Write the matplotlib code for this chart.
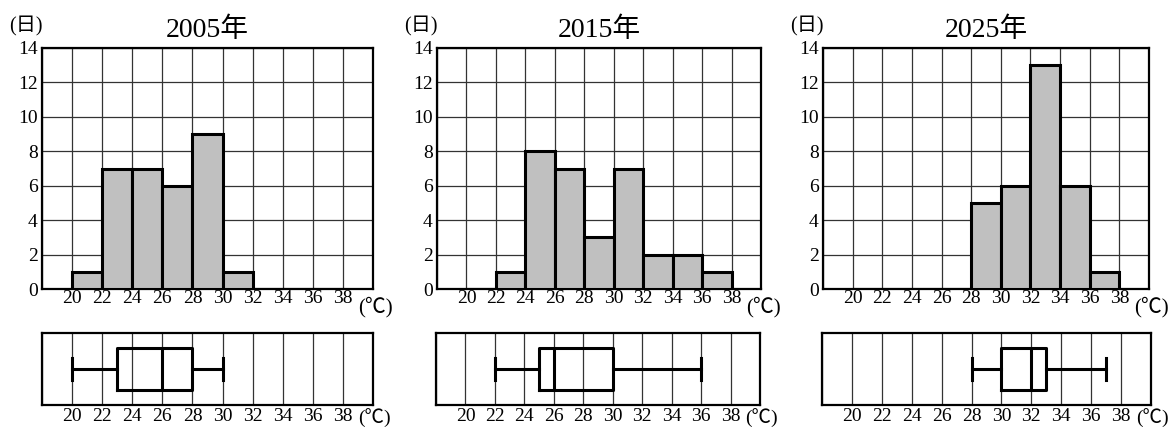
import numpy as np
import matplotlib
matplotlib.use('Agg')
import matplotlib.pyplot as plt
import matplotlib.transforms as mtransforms

# data
years = ['2005年', '2015年', '2025年']
bin_edges = [20, 22, 24, 26, 28, 30, 32, 34, 36, 38]
counts_2005 = [1, 7, 7, 6, 9, 1, 0, 0, 0]
counts_2015 = [0, 1, 8, 7, 3, 7, 2, 2, 1]
counts_2025 = [0, 0, 0, 0, 5, 6, 13, 6, 1]
# min, Q1, median, Q3, max
box_2005 = [20, 23, 26, 28, 30]
box_2015 = [22, 25, 26, 30, 36]
box_2025 = [28, 30, 32, 33, 37]
x_ticks = [20, 22, 24, 26, 28, 30, 32, 34, 36, 38]
y_ticks = [0, 2, 4, 6, 8, 10, 12, 14]

all_counts = [counts_2005, counts_2015, counts_2025]
all_boxes = [box_2005, box_2015, box_2025]

FONT = ['Liberation Serif', 'Noto Sans CJK JP', 'DejaVu Serif']
plt.rcParams['font.family'] = FONT

W, H = 1174, 430
fig = plt.figure(figsize=(W / 100, H / 100), dpi=100)

# pixel boxes (left, right) for each panel
hist_lr = [(42, 373), (437, 761), (823, 1149)]
box_lr = [(42, 373), (436, 760), (822, 1151)]
hist_tb = (48, 289)
box_tb = (333, 405)


def px_axes(l, r, t, b):
    return fig.add_axes([l / W, 1 - b / H, (r - l) / W, (b - t) / H])


for i in range(3):
    l, r = hist_lr[i]
    ax = px_axes(l, r, hist_tb[0], hist_tb[1])
    ax.set_xlim(18, 40)
    ax.set_ylim(0, 14)
    ax.set_yticks(y_ticks)
    ax.grid(True, color='#333333', linewidth=0.9)
    ax.set_axisbelow(True)
    ax.bar(bin_edges[:-1], all_counts[i], width=2, align='edge',
           color='#c0c0c0', edgecolor='black', linewidth=2.2, zorder=3)
    ax.set_xticks(np.arange(18, 41, 2))
    ax.set_xticklabels([''] + [str(v) for v in x_ticks] + [''])
    ax.set_yticklabels([str(v) for v in y_ticks])
    ax.tick_params(length=0, labelsize=14, pad=1)
    ax.tick_params(axis='y', pad=3)
    for s in ax.spines.values():
        s.set_linewidth(1.6)
    ax.set_title(years[i], fontsize=20, pad=8)
    ax.text(-0.1, 1.09, '(日)', transform=ax.transAxes, fontsize=14.5,
            ha='left', va='center')
    trans = mtransforms.blended_transform_factory(ax.transData, ax.transAxes)
    ax.text(39.0, -0.075, '(℃)', transform=trans, fontsize=15,
            ha='left', va='center')

    l, r = box_lr[i]
    bx = px_axes(l, r, box_tb[0], box_tb[1])
    bx.set_xlim(18, 40)
    bx.set_ylim(0, 1)
    mn, q1, med, q3, mx = all_boxes[i]
    stats = [dict(whislo=mn, q1=q1, med=med, q3=q3, whishi=mx, fliers=[])]
    lw = 2.2
    bx.bxp(stats, positions=[0.5], widths=0.58, capwidths=0.3,
           orientation='horizontal', showfliers=False,
           boxprops=dict(color='black', linewidth=lw),
           whiskerprops=dict(color='black', linewidth=lw),
           capprops=dict(color='black', linewidth=lw),
           medianprops=dict(color='black', linewidth=lw), manage_ticks=False)
    bx.set_xticks(np.arange(18, 41, 2))
    bx.set_xticklabels([''] + [str(v) for v in x_ticks] + [''])
    bx.set_yticks([])
    bx.grid(True, axis='x', color='#333333', linewidth=0.9)
    bx.set_axisbelow(True)
    bx.tick_params(length=0, labelsize=14, pad=2)
    for s in bx.spines.values():
        s.set_linewidth(1.6)
    trans = mtransforms.blended_transform_factory(bx.transData, bx.transAxes)
    bx.text(39.0, -0.19, '(℃)', transform=trans, fontsize=14,
            ha='left', va='center')

fig.savefig('out.png', dpi=100, facecolor='white')
